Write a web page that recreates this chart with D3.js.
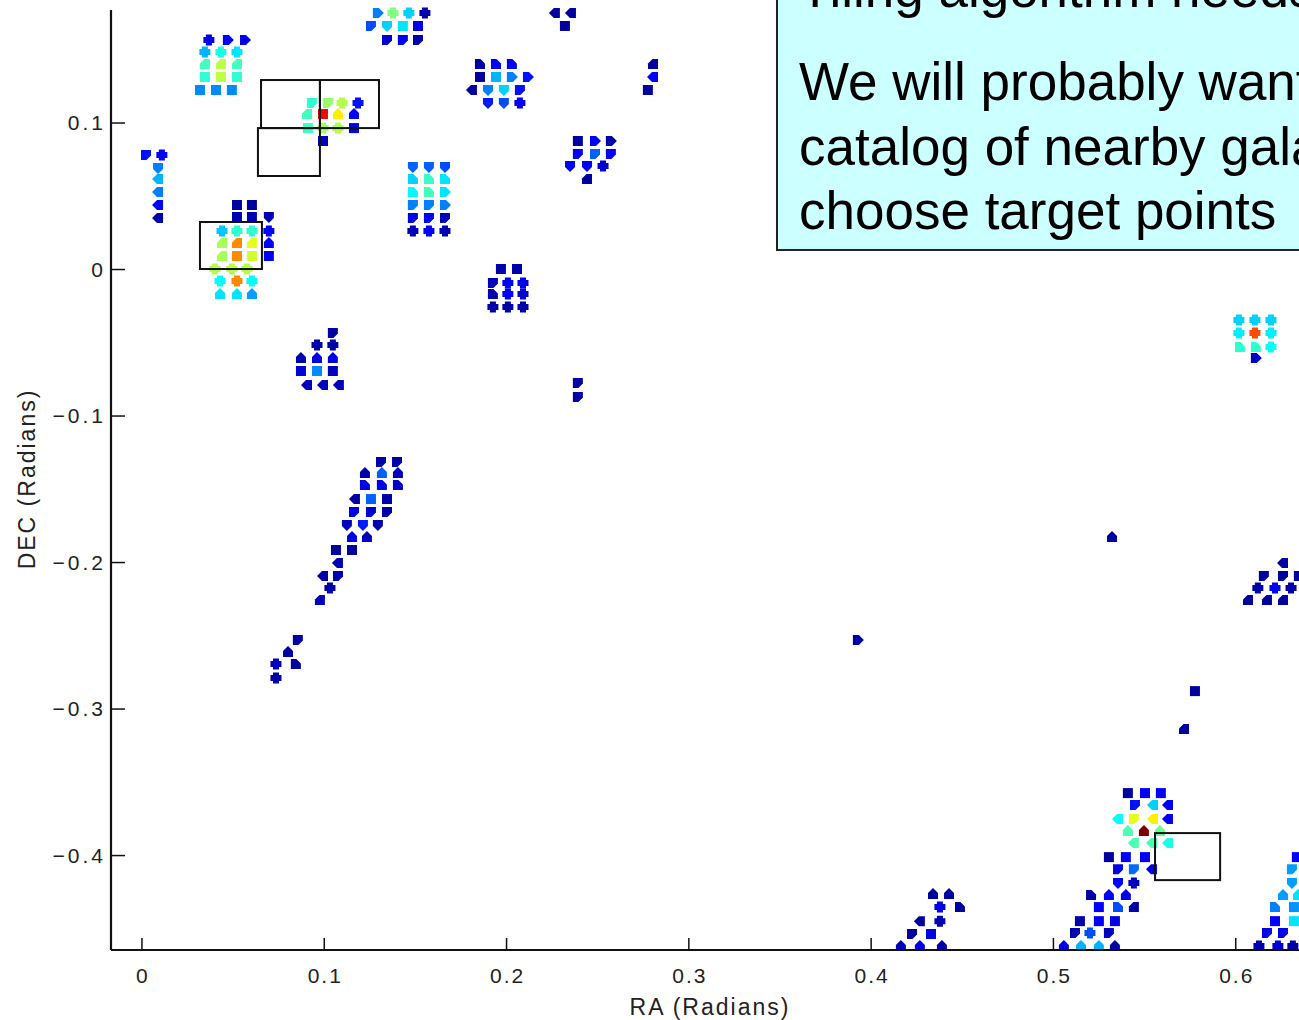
<!DOCTYPE html>
<html>
<head>
<meta charset="utf-8">
<script src="https://cdn.jsdelivr.net/npm/d3@7"></script>
<style>
  html, body { margin: 0; padding: 0; background: #fff; overflow: hidden; }
  svg { display: block; }
</style>
</head>
<body>
<svg id="chart" width="1299" height="1020"></svg>
<script>
// Each point: [RA (rad), DEC (rad), normalised density level 0..1, marker code]
const clusterA = [
  [0.0370,0.1563,0.10,'c'],[0.0474,0.1563,0.12,'r'],[0.0568,0.1563,0.10,'r'],
  [0.0348,0.1481,0.30,'c'],[0.0436,0.1481,0.40,'c'],[0.0524,0.1481,0.35,'c'],
  [0.0348,0.1399,0.44,'e'],[0.0436,0.1399,0.56,'e'],[0.0524,0.1399,0.44,'e'],
  [0.0348,0.1311,0.42,'s'],[0.0436,0.1311,0.56,'s'],[0.0524,0.1311,0.42,'s'],
  [0.0321,0.1222,0.26,'s'],[0.0409,0.1222,0.26,'s'],[0.0496,0.1222,0.26,'s']
];
const clusterB = [
  [0.1297,0.1747,0.25,'r'],[0.1380,0.1747,0.50,'c'],[0.1467,0.1747,0.33,'c'],[0.1555,0.1747,0.04,'c'],
  [0.1259,0.1659,0.20,'a'],[0.1347,0.1659,0.33,'d'],[0.1434,0.1659,0.35,'s'],[0.1517,0.1659,0.10,'s'],
  [0.1347,0.1563,0.08,'a'],[0.1434,0.1563,0.12,'a'],[0.1517,0.1563,0.04,'a']
];
const clusterC = [
  [0.2268,0.1747,0.03,'l'],[0.2356,0.1747,0.03,'l'],[0.2323,0.1659,0.03,'s']
];
const clusterD = [
  [0.1857,0.1399,0.04,'f'],[0.1945,0.1399,0.12,'f'],[0.2032,0.1399,0.12,'f'],
  [0.1857,0.1311,0.03,'s'],[0.1945,0.1311,0.30,'s'],[0.2032,0.1311,0.25,'r'],[0.2120,0.1311,0.14,'r'],
  [0.1813,0.1222,0.03,'l'],[0.1901,0.1222,0.25,'d'],[0.1988,0.1222,0.33,'d'],[0.2076,0.1222,0.14,'a'],
  [0.1901,0.1133,0.15,'d'],[0.1988,0.1133,0.20,'d'],[0.2076,0.1133,0.12,'c']
];
const clusterE = [
  [0.2806,0.1399,0.03,'e'],[0.2806,0.1311,0.12,'l'],[0.2778,0.1222,0.03,'s']
];
const clusterF = [
  [0.2394,0.0874,0.03,'s'],[0.2488,0.0874,0.12,'r'],[0.2575,0.0874,0.04,'r'],
  [0.2394,0.0785,0.12,'a'],[0.2488,0.0785,0.22,'a'],[0.2575,0.0785,0.12,'a'],
  [0.2351,0.0703,0.12,'d'],[0.2444,0.0703,0.12,'d'],[0.2532,0.0703,0.08,'c'],
  [0.2444,0.0614,0.03,'e']
];
const clusterG = [
  [0.1489,0.0696,0.22,'d'],[0.1577,0.0696,0.22,'d'],[0.1665,0.0696,0.20,'d'],
  [0.1489,0.0614,0.33,'f'],[0.1577,0.0614,0.43,'f'],[0.1665,0.0614,0.35,'f'],
  [0.1489,0.0526,0.37,'f'],[0.1577,0.0526,0.44,'f'],[0.1665,0.0526,0.35,'r'],
  [0.1489,0.0437,0.25,'a'],[0.1577,0.0437,0.25,'a'],[0.1665,0.0437,0.25,'r'],
  [0.1489,0.0348,0.10,'a'],[0.1577,0.0348,0.12,'a'],[0.1665,0.0348,0.06,'a'],
  [0.1489,0.0259,0.05,'c'],[0.1577,0.0259,0.12,'c'],[0.1665,0.0259,0.05,'c']
];
const clusterH = [
  [0.1972,0.0000,0.04,'s'],[0.2060,0.0000,0.04,'s'],
  [0.1928,-0.0096,0.06,'a'],[0.2010,-0.0096,0.12,'c'],[0.2093,-0.0096,0.10,'c'],
  [0.1928,-0.0171,0.05,'f'],[0.2010,-0.0171,0.12,'c'],[0.2093,-0.0171,0.08,'c'],
  [0.1928,-0.0259,0.04,'c'],[0.2010,-0.0259,0.04,'c'],[0.2093,-0.0259,0.04,'c']
];
const clusterI = [
  [0.2394,-0.0778,0.04,'a'],[0.2394,-0.0874,0.04,'a']
];
const clusterJ = [
  [0.0025,0.0778,0.14,'a'],[0.0112,0.0778,0.12,'c'],
  [0.0091,0.0689,0.25,'d'],[0.0091,0.0614,0.30,'l'],[0.0091,0.0526,0.25,'l'],
  [0.0091,0.0437,0.12,'l'],[0.0091,0.0348,0.04,'l']
];
const clusterK = [
  [0.0524,0.0437,0.03,'s'],[0.0606,0.0437,0.03,'s'],
  [0.0524,0.0355,0.05,'s'],[0.0606,0.0355,0.05,'s'],[0.0699,0.0355,0.05,'d'],
  [0.0442,0.0259,0.32,'c'],[0.0524,0.0259,0.42,'c'],[0.0606,0.0259,0.42,'c'],[0.0699,0.0259,0.12,'c'],
  [0.0442,0.0177,0.54,'e'],[0.0524,0.0177,0.74,'e'],[0.0606,0.0177,0.60,'e'],[0.0699,0.0177,0.12,'u'],
  [0.0442,0.0089,0.54,'e'],[0.0524,0.0089,0.74,'s'],[0.0606,0.0089,0.58,'s'],[0.0699,0.0089,0.12,'s'],
  [0.0403,0.0000,0.55,'c'],[0.0496,0.0000,0.55,'c'],[0.0579,0.0000,0.55,'c'],
  [0.0431,-0.0082,0.38,'c'],[0.0524,-0.0082,0.74,'c'],[0.0606,-0.0082,0.38,'c'],
  [0.0431,-0.0171,0.35,'u'],[0.0524,-0.0171,0.35,'u'],[0.0606,-0.0171,0.28,'u']
];
const clusterL = [
  [0.0935,0.1133,0.42,'a'],[0.1023,0.1133,0.52,'a'],[0.1100,0.1133,0.55,'c'],[0.1188,0.1133,0.14,'c'],
  [0.0908,0.1058,0.44,'e'],[0.0996,0.1058,0.88,'s'],[0.1078,0.1058,0.64,'u'],[0.1166,0.1058,0.12,'u'],
  [0.0913,0.0962,0.43,'s'],[0.0996,0.0962,0.53,'c'],[0.1078,0.0962,0.55,'c'],[0.1166,0.0962,0.10,'s'],
  [0.0996,0.0874,0.06,'s']
];
const clusterM = [
  [0.1050,-0.0437,0.03,'a'],
  [0.0963,-0.0519,0.04,'c'],[0.1050,-0.0519,0.04,'c'],
  [0.0875,-0.0608,0.05,'u'],[0.0963,-0.0608,0.10,'u'],[0.1050,-0.0608,0.10,'u'],
  [0.0875,-0.0696,0.08,'s'],[0.0963,-0.0696,0.26,'s'],[0.1050,-0.0696,0.06,'s'],
  [0.0908,-0.0792,0.06,'l'],[0.0996,-0.0792,0.06,'l'],[0.1083,-0.0792,0.06,'l']
];
const clusterN = [
  [0.1314,-0.1317,0.04,'a'],[0.1402,-0.1317,0.04,'a'],
  [0.1226,-0.1392,0.04,'u'],[0.1319,-0.1392,0.22,'u'],[0.1407,-0.1392,0.06,'u'],
  [0.1226,-0.1474,0.10,'f'],[0.1319,-0.1474,0.10,'f'],[0.1407,-0.1474,0.07,'f'],
  [0.1171,-0.1570,0.03,'l'],[0.1259,-0.1570,0.22,'s'],[0.1347,-0.1570,0.04,'s'],
  [0.1166,-0.1659,0.10,'a'],[0.1259,-0.1659,0.08,'a'],[0.1347,-0.1659,0.04,'a'],
  [0.1127,-0.1747,0.06,'d'],[0.1215,-0.1747,0.15,'d'],[0.1297,-0.1747,0.04,'d'],
  [0.1155,-0.1829,0.10,'u'],[0.1237,-0.1829,0.06,'u'],
  [0.1067,-0.1918,0.03,'s'],[0.1155,-0.1918,0.03,'s'],
  [0.1078,-0.2007,0.05,'l'],
  [0.0996,-0.2096,0.04,'l'],[0.1078,-0.2096,0.05,'a'],
  [0.1034,-0.2177,0.04,'c'],
  [0.0979,-0.2259,0.06,'e'],
  [0.0858,-0.2532,0.04,'a'],
  [0.0804,-0.2614,0.04,'u'],
  [0.0738,-0.2696,0.06,'c'],[0.0847,-0.2696,0.03,'f'],
  [0.0738,-0.2792,0.04,'c']
];
const isolated = [
  [0.3930,-0.2532,0.04,'r'],[0.5324,-0.1829,0.03,'u'],
  [0.5779,-0.2881,0.03,'s'],[0.5719,-0.3140,0.03,'e']
];
const clusterO = [
  [0.4342,-0.4266,0.03,'u'],[0.4430,-0.4266,0.04,'u'],
  [0.4380,-0.4355,0.10,'c'],[0.4490,-0.4355,0.03,'f'],
  [0.4270,-0.4451,0.03,'l'],[0.4380,-0.4451,0.05,'c'],
  [0.4227,-0.4539,0.03,'a'],[0.4331,-0.4539,0.10,'s'],
  [0.4166,-0.4621,0.06,'u'],[0.4270,-0.4621,0.10,'u'],[0.4391,-0.4621,0.04,'u']
];
const clusterP = [
  [0.5411,-0.3577,0.03,'s'],[0.5505,-0.3577,0.12,'s'],[0.5592,-0.3577,0.12,'s'],
  [0.5450,-0.3659,0.14,'a'],[0.5549,-0.3659,0.33,'l'],[0.5631,-0.3659,0.12,'l'],
  [0.5357,-0.3754,0.38,'l'],[0.5444,-0.3754,0.60,'a'],[0.5549,-0.3754,0.64,'l'],[0.5631,-0.3754,0.12,'l'],
  [0.5411,-0.3836,0.45,'u'],[0.5499,-0.3836,1.00,'u'],[0.5587,-0.3836,0.48,'u'],
  [0.5444,-0.3918,0.45,'l'],[0.5543,-0.3918,0.45,'l'],[0.5631,-0.3918,0.40,'l'],
  [0.5307,-0.4014,0.03,'s'],[0.5400,-0.4014,0.12,'s'],[0.5505,-0.4014,0.12,'s'],
  [0.5357,-0.4096,0.10,'a'],[0.5444,-0.4096,0.23,'a'],[0.5543,-0.4096,0.10,'l'],
  [0.5357,-0.4191,0.12,'d'],[0.5444,-0.4191,0.06,'c'],
  [0.5209,-0.4273,0.04,'f'],[0.5307,-0.4273,0.12,'u'],[0.5400,-0.4273,0.10,'u'],
  [0.5252,-0.4355,0.12,'s'],[0.5357,-0.4355,0.20,'f'],[0.5444,-0.4355,0.04,'e'],
  [0.5148,-0.4451,0.04,'s'],[0.5252,-0.4451,0.12,'s'],[0.5340,-0.4451,0.10,'s'],
  [0.5121,-0.4532,0.05,'a'],[0.5203,-0.4532,0.20,'c'],[0.5307,-0.4532,0.06,'a'],
  [0.5060,-0.4621,0.10,'u'],[0.5154,-0.4621,0.30,'u'],[0.5252,-0.4621,0.30,'u'],[0.5340,-0.4621,0.04,'u']
];
const clusterQ = [
  [0.6338,-0.4014,0.12,'s'],
  [0.6311,-0.4096,0.28,'a'],
  [0.6311,-0.4191,0.28,'d'],
  [0.6262,-0.4273,0.28,'u'],[0.6344,-0.4273,0.35,'u'],
  [0.6218,-0.4355,0.25,'f'],[0.6322,-0.4355,0.27,'s'],
  [0.6218,-0.4451,0.12,'s'],[0.6322,-0.4451,0.35,'s'],
  [0.6174,-0.4532,0.10,'a'],[0.6262,-0.4532,0.10,'a'],
  [0.6130,-0.4621,0.05,'c'],[0.6234,-0.4621,0.08,'c'],[0.6316,-0.4621,0.04,'c']
];
const clusterR = [
  [0.6020,-0.0348,0.33,'c'],[0.6108,-0.0348,0.33,'c'],[0.6196,-0.0348,0.33,'c'],
  [0.6020,-0.0437,0.36,'c'],[0.6108,-0.0437,0.80,'c'],[0.6196,-0.0437,0.36,'c'],
  [0.6026,-0.0532,0.42,'f'],[0.6113,-0.0532,0.42,'f'],[0.6196,-0.0532,0.38,'c'],
  [0.6113,-0.0608,0.07,'r']
];
const clusterS = [
  [0.6262,-0.2007,0.03,'l'],
  [0.6157,-0.2096,0.03,'a'],[0.6262,-0.2096,0.03,'a'],[0.6349,-0.2096,0.03,'a'],
  [0.6124,-0.2177,0.04,'c'],[0.6218,-0.2177,0.12,'c'],[0.6306,-0.2177,0.04,'c'],
  [0.6070,-0.2259,0.03,'e'],[0.6174,-0.2259,0.03,'e'],[0.6262,-0.2259,0.03,'e']
];

// Target tiles: [RA of left edge, DEC of bottom edge, width, height]
const tiles = [
  [0.0321, 0.0000, 0.0340, 0.0321],
  [0.0656, 0.0962, 0.0323, 0.0328],
  [0.0979, 0.0962, 0.0324, 0.0328],
  [0.0639, 0.0635, 0.0340, 0.0327],
  [0.5560, -0.4171, 0.0357, 0.0321]
];

const raTicks = [0, 0.1, 0.2, 0.3, 0.4, 0.5, 0.6];
const decTicks = [-0.4, -0.3, -0.2, -0.1, 0, 0.1];
const raDomain = [-0.0167, 0.65];
const decDomain = [-0.4648, 0.1768];

const noteLines = [
  "Tiling algorithm needs",
  "We will probably want a",
  "catalog of nearby galaxies to",
  "choose target points"
];

const points = [].concat(clusterA, clusterB, clusterC, clusterD, clusterE, clusterF,
  clusterG, clusterH, clusterI, clusterJ, clusterK, clusterL, clusterM, clusterN,
  isolated, clusterO, clusterP, clusterQ, clusterR, clusterS);

// ---- layout ----
const svg = d3.select("#chart");
const W = 1299, H = 1020;
const axLeft = 111, axTop = 10, axBottom = 950;

const x = d3.scaleLinear().domain(raDomain).range([axLeft, axLeft + (raDomain[1] - raDomain[0]) * 1823]);
const y = d3.scaleLinear().domain(decDomain).range([axBottom, axTop]);

// MATLAB-style jet colormap
function jet(t) {
  const c = v => Math.max(0, Math.min(1, v));
  const r = c(1.5 - Math.abs(4 * t - 3));
  const g = c(1.5 - Math.abs(4 * t - 2));
  const b = c(1.5 - Math.abs(4 * t - 1));
  return d3.rgb(r * 255, g * 255, b * 255).formatHex();
}

const markerPaths = {
  s: "M-5,-5H5V5H-5Z",
  u: "M-5,5V-1L0,-6L5,-1V5Z",
  d: "M-5,-5H5V1L0,6L-5,1Z",
  l: "M5,-5V5H-1L-6,0L-1,-5Z",
  r: "M-5,-5H1L6,0L1,5H-5Z",
  c: "M-3,-5.5H3V-3H5.5V3H3V5.5H-3V3H-5.5V-3H-3Z",
  a: "M-5,-5H5V0.5L0.5,5H-5Z",
  e: "M-0.5,-5H5V5H-5V-0.5Z",
  f: "M-5,-5H0.5L5,-0.5V5H-5Z"
};

svg.append("defs").append("clipPath").attr("id", "plotClip")
  .append("rect").attr("x", axLeft).attr("y", 0).attr("width", W - axLeft).attr("height", axBottom + 1);

const plot = svg.append("g").attr("clip-path", "url(#plotClip)");

plot.append("g").attr("class", "points")
  .selectAll("path").data(points).join("path")
  .attr("transform", d => `translate(${x(d[0])},${y(d[1])})`)
  .attr("d", d => markerPaths[d[3]])
  .attr("fill", d => jet(d[2]));

plot.append("g").attr("class", "tiles")
  .selectAll("rect").data(tiles).join("rect")
  .attr("x", d => x(d[0]))
  .attr("y", d => y(d[1] + d[3]))
  .attr("width", d => x(d[0] + d[2]) - x(d[0]))
  .attr("height", d => y(d[1]) - y(d[1] + d[3]))
  .attr("fill", "none")
  .attr("stroke", "#111")
  .attr("stroke-width", 2);

// ---- axes (ticks point inward) ----
const tickFont = "'Liberation Sans', Arial, Helvetica, sans-serif";
const fmt = v => (v < 0 ? "\u2212" : "") + Math.abs(v).toString();

const xAxis = svg.append("g").attr("transform", `translate(0,${axBottom})`)
  .call(d3.axisBottom(x).tickValues(raTicks).tickSizeInner(-12).tickSizeOuter(0).tickPadding(18).tickFormat(fmt));
const yAxis = svg.append("g").attr("transform", `translate(${axLeft},0)`)
  .call(d3.axisLeft(y).tickValues(decTicks).tickSizeInner(-14).tickSizeOuter(0).tickPadding(5).tickFormat(fmt));

[xAxis, yAxis].forEach(g => {
  g.select(".domain").remove();
  g.selectAll(".tick line").attr("stroke", "#111").attr("stroke-width", 1.5);
  g.selectAll(".tick text").attr("fill", "#222").style("font-family", tickFont).style("font-size", "21px");
});
xAxis.selectAll(".tick text").style("letter-spacing", "2px").attr("dx", "1px");
yAxis.selectAll(".tick text").style("letter-spacing", "3px").attr("dy", "0.35em");

svg.append("line").attr("x1", axLeft).attr("x2", W).attr("y1", axBottom).attr("y2", axBottom)
  .attr("stroke", "#111").attr("stroke-width", 2.2);
svg.append("line").attr("x1", axLeft).attr("x2", axLeft).attr("y1", axTop).attr("y2", axBottom)
  .attr("stroke", "#111").attr("stroke-width", 2.2);

svg.append("text").attr("x", 710).attr("y", 1015).attr("text-anchor", "middle")
  .style("font-family", tickFont).style("font-size", "23px").style("letter-spacing", "2px")
  .attr("fill", "#222").text("RA (Radians)");
svg.append("text").attr("transform", "translate(35,479) rotate(-90)").attr("text-anchor", "middle")
  .style("font-family", tickFont).style("font-size", "23px").style("letter-spacing", "2px")
  .attr("fill", "#222").text("DEC (Radians)");

// ---- note panel ----
const note = svg.append("g");
note.append("rect").attr("x", 777).attr("y", -20).attr("width", 600).attr("height", 270)
  .attr("fill", "#ccffff").attr("stroke", "#222").attr("stroke-width", 2);
const baselines = [7, 100, 165, 229];
note.selectAll("text").data(noteLines).join("text")
  .attr("x", 799).attr("y", (d, i) => baselines[i])
  .style("font-family", "'Liberation Sans', Arial, sans-serif").style("font-size", "53px")
  .attr("fill", "#000").text(d => d);
</script>
</body>
</html>
